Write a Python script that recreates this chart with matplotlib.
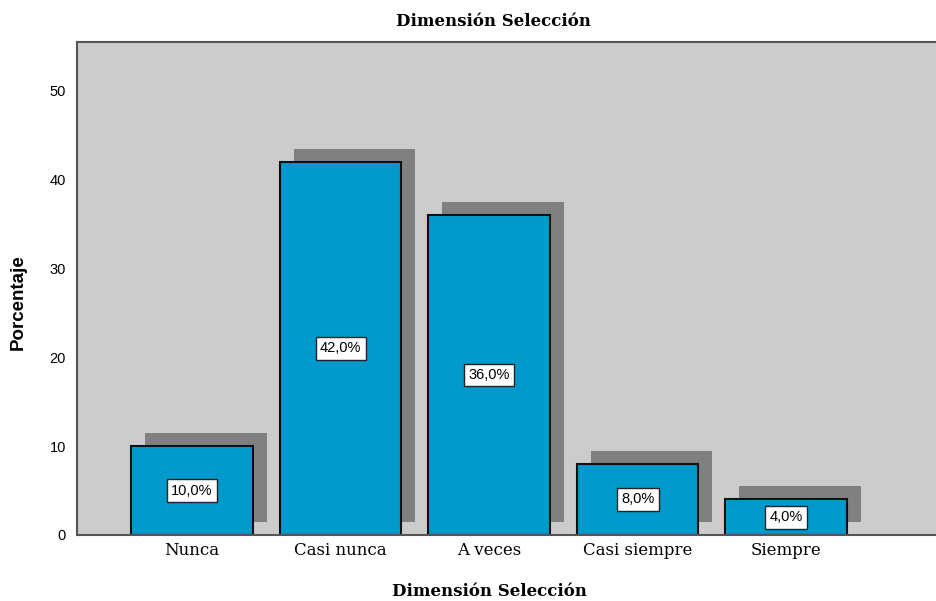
import matplotlib.pyplot as plt
from matplotlib.transforms import ScaledTranslation

categorias = ['Nunca', 'Casi nunca', 'A veces', 'Casi siempre', 'Siempre']
porcentajes = [10.0, 42.0, 36.0, 8.0, 4.0]
etiquetas = ['10,0%', '42,0%', '36,0%', '8,0%', '4,0%']
yticks = [0, 10, 20, 30, 40, 50]

fig = plt.figure(figsize=(9.36, 6.01), dpi=100)
ax = fig.add_axes([77 / 936, 66 / 601, 859 / 936, 493 / 601])
ax.set_facecolor('#cccccc')

x = list(range(len(categorias)))

# sombra desplazada (efecto 3D)
sombra = ax.transData + ScaledTranslation(14 / 100, 13 / 100, fig.dpi_scale_trans)
ax.bar(x, porcentajes, width=0.82, color='#808080', transform=sombra, zorder=1)

ax.bar(x, porcentajes, width=0.82, color='#0099cc', edgecolor='#111111',
       linewidth=1.5, zorder=2)

for xi, v, lab in zip(x, porcentajes, etiquetas):
    ax.text(xi, v / 2, lab, ha='center', va='center', fontsize=10.5,
            family='Liberation Sans', zorder=3,
            bbox=dict(boxstyle='square,pad=0.3', fc='white', ec='#222222', lw=1))

ax.set_xlim(-0.775, 5.01)
ax.set_ylim(0, 55.5)
ax.set_yticks(yticks)
ax.set_xticks(x)
ax.set_xticklabels(categorias, family='DejaVu Serif', fontsize=12)
ax.tick_params(axis='y', length=0, pad=8, labelsize=10.5)
ax.tick_params(axis='x', length=0, pad=5)
for t in ax.get_yticklabels():
    t.set_family('Liberation Sans')

for s in ['left', 'top', 'bottom']:
    ax.spines[s].set_color('#555555')
    ax.spines[s].set_linewidth(1.5)
ax.spines['right'].set_visible(False)

fig.text(493 / 936, 1 - 21 / 601, 'Dimensión Selección', ha='center', va='center',
         family='DejaVu Serif', fontweight='bold', fontsize=12)
fig.text(489 / 936, 1 - 592 / 601, 'Dimensión Selección', ha='center', va='center',
         family='DejaVu Serif', fontweight='bold', fontsize=12)
fig.text(18 / 936, 1 - 302 / 601, 'Porcentaje', ha='center', va='center', rotation=90,
         family='Liberation Sans', fontweight='bold', fontsize=13.5)

fig.savefig('out.png', dpi=100)
